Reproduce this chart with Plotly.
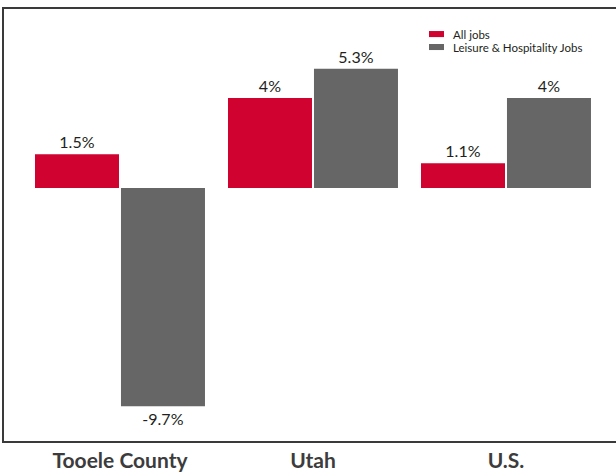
import plotly.graph_objects as go

# Job growth by area
regions = ["Tooele County", "Utah", "U.S."]
all_jobs = [1.5, 4.0, 1.1]
leisure_jobs = [-9.7, 5.3, 4.0]
all_jobs_labels = ["1.5%", "4%", "1.1%"]
leisure_labels = ["-9.7%", "5.3%", "4%"]
series_names = ["All jobs", "Leisure & Hospitality Jobs"]

RED = "#d0022f"
GRAY = "#666666"
FONT = "Lato"

fig = go.Figure()
fig.add_trace(go.Bar(
    x=regions, y=all_jobs, name=series_names[0], marker=dict(color=RED, line=dict(width=0)),
    text=all_jobs_labels, textposition="outside", cliponaxis=False,
    textfont=dict(family=FONT, size=16, color="#231f20"),
))
fig.add_trace(go.Bar(
    x=regions, y=leisure_jobs, name=series_names[1], marker=dict(color=GRAY, line=dict(width=0)),
    text=leisure_labels, textposition="outside", cliponaxis=False,
    textfont=dict(family=FONT, size=16, color="#231f20"),
))

# Hand-drawn compact legend
legend_rows = [(series_names[0], RED, 0.942), (series_names[1], GRAY, 0.912)]
shapes = []
annotations = []
for name, color, yc in legend_rows:
    shapes.append(dict(type="rect", xref="paper", yref="paper",
                       x0=0.6944, x1=0.7190, y0=yc - 0.007, y1=yc + 0.007,
                       fillcolor=color, line=dict(width=0)))
    annotations.append(dict(text=name, xref="paper", yref="paper", x=0.730, y=yc,
                            xanchor="left", yanchor="middle", showarrow=False,
                            font=dict(family=FONT, size=11.5, color="#231f20")))

fig.update_layout(
    width=616, height=472,
    margin=dict(l=4, r=0, t=9, b=29),
    paper_bgcolor="white", plot_bgcolor="white",
    barmode="group", bargap=0.109, bargroupgap=0.023,
    showlegend=False,
    shapes=shapes, annotations=annotations,
    xaxis=dict(range=[-0.601, 2.570], showgrid=False, zeroline=False,
               showline=True, linecolor="#3a3a3a", linewidth=1.5, mirror=True,
               ticks="", tickfont=dict(family=FONT, size=21, color="#3c3c3c", weight="bold")),
    yaxis=dict(range=[-11.24, 7.96], showgrid=False, zeroline=False,
               showline=True, linecolor="#3a3a3a", linewidth=1.5, mirror=False,
               showticklabels=False, ticks=""),
)

fig.write_html("out.html")
